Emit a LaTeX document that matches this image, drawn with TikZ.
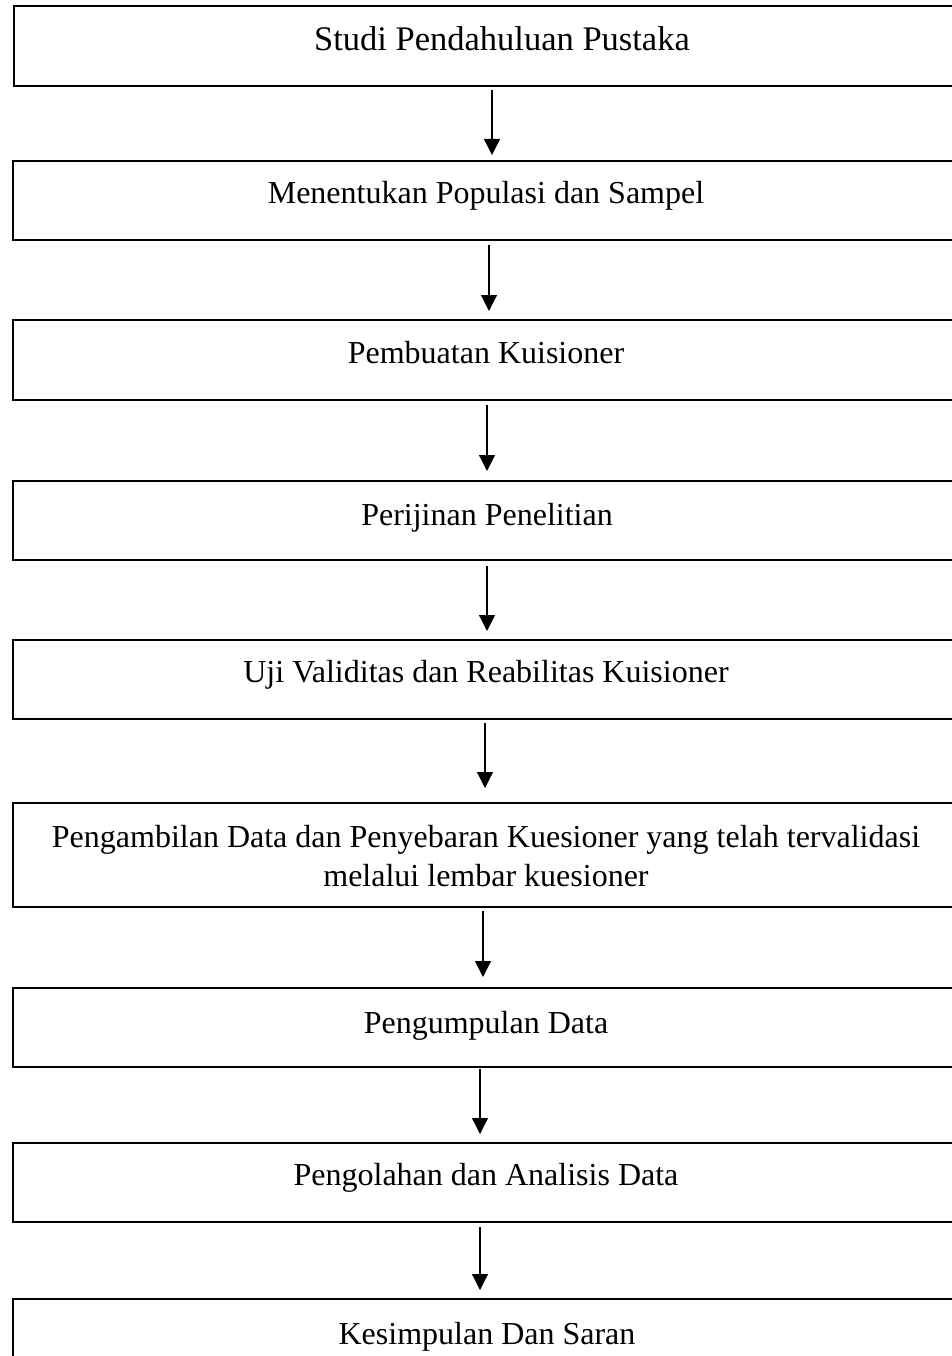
\documentclass[tikz,border=0pt]{standalone}
\usepackage{fontspec}
\setmainfont{Liberation Serif}
\usetikzlibrary{arrows.meta}
\begin{document}
\begin{tikzpicture}[x=1pt,y=-1pt,
 stepbox/.style={draw, line width=2.8pt, minimum width=976pt, inner sep=0pt, outer sep=0pt, anchor=north west},
 lbl/.style={font=\fontsize{32}{39}\selectfont, inner sep=0pt, anchor=base, align=center},
 arr/.style={line width=1.2pt, -{Triangle[width=16pt,length=16pt]}}]
\useasboundingbox (0,0) rectangle (952,1356);
\clip (0,0) rectangle (952,1356);
\fill[white] (0,0) rectangle (952,1356);
% boxes
\node[stepbox, minimum height=80pt]  (b1) at (14,6) {};
\node[stepbox, minimum height=79pt]  (b2) at (13,161) {};
\node[stepbox, minimum height=80pt]  (b3) at (13,320) {};
\node[stepbox, minimum height=79pt]  (b4) at (13,481) {};
\node[stepbox, minimum height=79pt]  (b5) at (13,640) {};
\node[stepbox, minimum height=104pt] (b6) at (13,803) {};
\node[stepbox, minimum height=79pt]  (b7) at (13,988) {};
\node[stepbox, minimum height=79pt]  (b8) at (13,1143) {};
\node[stepbox, minimum height=80pt]  (b9) at (13,1299) {};
% labels
\node[lbl, font=\fontsize{34.5}{39}\selectfont] (t1) at (502,51) {Studi Pendahuluan Pustaka};
\node[lbl] (t2) at (486,204) {Menentukan Populasi dan Sampel};
\node[lbl] (t3) at (486,363) {Pembuatan Kuisioner};
\node[lbl] (t4) at (487,525) {Perijinan Penelitian};
\node[lbl] (t5) at (486,682) {Uji Validitas dan Reabilitas Kuisioner};
\node[lbl] (t6) at (486,886) {Pengambilan Data dan Penyebaran Kuesioner yang telah tervalidasi\\melalui lembar kuesioner};
\node[lbl] (t7) at (486,1033) {Pengumpulan Data};
\node[lbl] (t8) at (486,1185) {Pengolahan dan Analisis Data};
\node[lbl] (t9) at (487,1344) {Kesimpulan Dan Saran};
% arrow columns
\coordinate (x1) at (492,0);
\coordinate (x2) at (489,0);
\coordinate (x3) at (487,0);
\coordinate (x4) at (487,0);
\coordinate (x5) at (485,0);
\coordinate (x6) at (483,0);
\coordinate (x7) at (480,0);
\coordinate (x8) at (480,0);
% arrows
\draw[arr, shorten <=4pt, shorten >=6pt]  (b1.south -| x1) -- (b2.north -| x1);
\draw[arr, shorten <=5pt, shorten >=9pt]  (b2.south -| x2) -- (b3.north -| x2);
\draw[arr, shorten <=5pt, shorten >=10pt] (b3.south -| x3) -- (b4.north -| x3);
\draw[arr, shorten <=6pt, shorten >=9pt]  (b4.south -| x4) -- (b5.north -| x4);
\draw[arr, shorten <=4pt, shorten >=15pt] (b5.south -| x5) -- (b6.north -| x5);
\draw[arr, shorten <=4pt, shorten >=11pt] (b6.south -| x6) -- (b7.north -| x6);
\draw[arr, shorten <=2pt, shorten >=9pt]  (b7.south -| x7) -- (b8.north -| x7);
\draw[arr, shorten <=5pt, shorten >=9pt]  (b8.south -| x8) -- (b9.north -| x8);
\end{tikzpicture}
\end{document}
